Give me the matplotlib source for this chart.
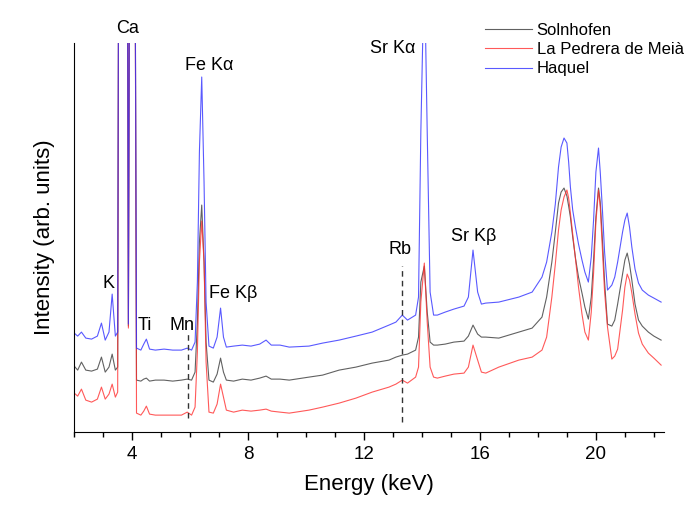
import numpy as np
import matplotlib
matplotlib.use("Agg")
import matplotlib.pyplot as plt
import matplotlib.ticker as ticker

plt.rcParams['font.family'] = ['Liberation Sans', 'DejaVu Sans']

# energy grid (keV) shared by the three spectra
energy = [2.00, 2.12, 2.25, 2.40, 2.60, 2.80, 2.94, 3.07, 3.20, 3.31, 3.42, 3.50,
          3.55, 3.69, 3.82, 3.87, 3.93, 4.01, 4.10, 4.15,
          4.30, 4.40, 4.49, 4.60, 4.80, 5.10, 5.40, 5.70, 5.90, 6.05, 6.17,
          6.25, 6.32, 6.40, 6.48, 6.55, 6.65, 6.80, 6.93, 7.05, 7.15, 7.25,
          7.50, 7.80, 8.10, 8.40, 8.62, 8.80, 9.10, 9.42, 10.10, 10.57, 11.14,
          11.72, 12.28, 12.86, 13.10, 13.32, 13.50, 13.78, 13.88, 13.96, 14.08,
          14.18, 14.28, 14.40, 14.53, 14.80, 15.10, 15.45, 15.60, 15.76, 15.92,
          16.05, 16.20, 16.65,
          17.34, 17.80, 18.14, 18.30, 18.48, 18.60, 18.71, 18.80, 18.90, 19.00,
          19.06, 19.12, 19.20, 19.30, 19.40, 19.52, 19.62, 19.74, 19.84, 19.92,
          20.00, 20.09, 20.15, 20.22, 20.30, 20.40, 20.55, 20.65, 20.75, 20.92,
          21.00, 21.08, 21.16, 21.24, 21.35, 21.47, 21.60, 21.81, 22.00, 22.25]

# intensities (arb. units, already offset as in the figure)
haquel = [99, 96, 100, 94, 93, 96, 109, 92, 100, 138, 96, 100,
          700, 2500, 700, 108, 700, 1500, 500, 84,
          82, 88, 93, 83, 82, 83, 82, 82, 84, 82, 90,
          150, 280, 355, 250, 130, 86, 84, 95, 124, 95, 85,
          86, 87, 86, 88, 92, 87, 87, 85, 86, 89, 92,
          96, 100, 107, 110, 117, 112, 117, 135, 300, 470,
          300, 140, 117, 117, 120, 123, 126, 135, 182, 140,
          128, 129, 130,
          135, 140, 155, 170, 200, 228, 265, 285, 294, 289,
          270, 245, 222, 204, 188, 172, 160, 150, 175, 212,
          260, 284, 260, 225, 180, 142, 147, 155, 170, 200,
          212, 219, 205, 185, 163, 149, 142, 137, 134, 130]

solnhofen = [66, 62, 70, 62, 61, 63, 75, 60, 65, 78, 62, 65,
             700, 2500, 700, 106, 700, 1500, 500, 52,
             51, 53, 54, 51, 52, 52, 51, 52, 53, 52, 60,
             110, 190, 227, 170, 90, 52, 50, 58, 74, 60, 52,
             51, 53, 52, 54, 56, 53, 53, 52, 55, 57, 62,
             65, 69, 72, 75, 77, 78, 82, 95, 150, 166,
             120, 90, 87, 87, 88, 90, 91, 96, 107, 98,
             95, 95, 94,
             100, 104, 115, 135, 170, 200, 229, 240, 244, 236,
             226, 215, 195, 173, 155, 139, 125, 113, 135, 172,
             215, 244, 230, 195, 150, 108, 106, 112, 128, 158,
             172, 179, 168, 152, 128, 112, 106, 100, 96, 92]

pedrera = [39, 36, 43, 32, 30, 33, 45, 33, 38, 48, 35, 40,
           700, 2500, 700, 104, 700, 1500, 500, 19,
           17, 21, 26, 18, 17, 17, 17, 17, 20, 17, 25,
           80, 170, 211, 170, 70, 20, 19, 28, 48, 35, 22,
           20, 22, 21, 22, 23, 21, 20, 19, 22, 25, 29,
           34, 40, 45, 48, 52, 49, 55, 65, 130, 169,
           110, 65, 55, 54, 56, 58, 59, 65, 87, 72,
           60, 59, 65,
           72, 75, 82, 95, 135, 168, 202, 222, 235, 242,
           234, 219, 198, 172, 145, 118, 100, 92, 120, 159,
           210, 242, 225, 185, 140, 105, 73, 76, 83, 122,
           145, 158, 152, 139, 118, 99, 88, 79, 74, 67]

series_names = ["Solnhofen", "La Pedrera de Meià", "Haquel"]
series_colors = ["#3a3a3a", "#ff3030", "#3030ff"]

# peak labels: text, energy, height
peak_labels = ["Ca", "K", "Ti", "Mn", "Fe K\u03b1", "Fe K\u03b2", "Sr K\u03b1", "Rb", "Sr K\u03b2"]
label_e = [3.84, 3.18, 4.45, 5.71, 6.67, 7.50, 12.98, 13.24, 15.79]
label_y = [404, 149, 107, 107, 367, 139, 384, 183, 196]

# dashed markers for weak lines: energy, bottom, top
marker_e = [5.92, 13.32]
marker_lo = [14, 10]
marker_hi = [98, 166]

fig = plt.figure(figsize=(7, 5.12), dpi=100)
ax = fig.add_axes([0.106, 0.156, 0.843, 0.76])

for vals, name, col in zip([solnhofen, pedrera, haquel], series_names, series_colors):
    ax.plot(energy, vals, color=col, lw=0.8, alpha=0.8, label=name)

for e, lo, hi in zip(marker_e, marker_lo, marker_hi):
    ax.plot([e, e], [lo, hi], ls=(0, (4, 3)), color="#333333", lw=1.0)

for t, e, yv in zip(peak_labels, label_e, label_y):
    ax.text(e, yv, t, ha="center", va="center", fontsize=13, clip_on=False)

ax.set_xlim(2.0, 22.36)
ax.set_ylim(0, 389)
ax.set_yticks([])
ax.xaxis.set_major_locator(ticker.MultipleLocator(4))
ax.xaxis.set_minor_locator(ticker.MultipleLocator(1))
ax.tick_params(axis="x", which="major", direction="out", length=6, width=1, labelsize=13.5, pad=4)
ax.tick_params(axis="x", which="minor", direction="out", length=3.5, width=1)
ax.spines["top"].set_visible(False)
ax.spines["right"].set_visible(False)
ax.set_xlabel("Energy (keV)", fontsize=16, labelpad=8)
ax.set_ylabel("Intensity (arb. units)", fontsize=16, labelpad=14)

ax.legend(loc="upper left", bbox_to_anchor=(0.693, 0.955), bbox_transform=fig.transFigure,
          frameon=False, fontsize=12, handlelength=2.8, handletextpad=0.3,
          labelspacing=0.25, borderpad=0, borderaxespad=0)

plt.savefig("out.png", dpi=100)
